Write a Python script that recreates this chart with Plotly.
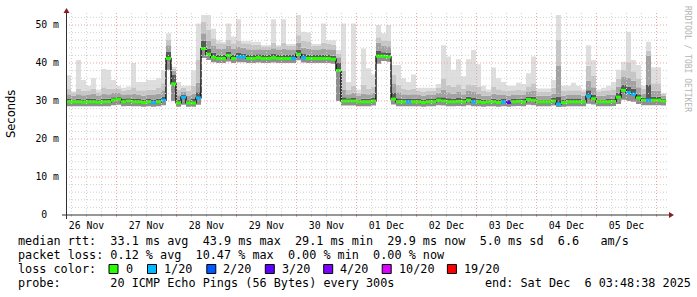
import plotly.graph_objects as go
import pandas as pd

# ---------------- data ----------------
start_time = "2025-11-26 03:48:38"
end_time = "2025-12-06 03:48:38"
step_hours = 2

median_rtt = [
    29.8, 29.8, 29.8, 29.7, 29.8, 29.8, 29.7, 29.8, 29.8, 30.3,
    30.5, 29.8, 30.0, 29.8, 29.8, 29.6, 29.8, 29.6, 29.8, 30.2,
    41.2, 34.5, 29.5, 31.0, 29.5, 29.5, 30.8, 43.8, 42.3, 41.5,
    41.2, 41.2, 42.0, 41.2, 41.6, 41.6, 41.2, 41.2, 41.4, 41.2,
    41.2, 41.4, 41.2, 41.2, 41.2, 41.2, 42.3, 41.4, 41.2, 41.2,
    41.2, 41.2, 41.2, 41.0, 38.0, 30.0, 30.0, 30.0, 29.8, 29.8,
    29.8, 30.0, 41.8, 41.8, 41.6, 30.5, 29.8, 29.8, 29.8, 29.8,
    29.8, 29.6, 29.8, 29.8, 30.2, 30.0, 29.8, 29.8, 29.9, 29.8,
    30.2, 29.8, 29.8, 29.6, 29.8, 29.8, 29.6, 29.8, 29.6, 29.8,
    29.9, 29.8, 30.4, 30.2, 29.8, 29.8, 29.8, 30.0, 29.2, 29.6,
    29.8, 29.8, 29.8, 29.8, 31.3, 30.6, 29.8, 29.8, 29.8, 29.9,
    31.0, 32.8, 32.2, 31.8, 30.8, 30.2, 30.2, 30.2, 30.2, 30.0,
]

max_rtt = [
    36.8, 32.5, 40.8, 35.5, 34.0, 36.0, 33.0, 38.4, 38.2, 35.5,
    34.0, 33.5, 33.8, 40.0, 35.0, 35.0, 35.5, 35.5, 36.0, 38.0,
    47.8, 39.0, 35.0, 34.0, 34.0, 38.0, 50.4, 52.6, 52.6, 49.0,
    46.0, 45.6, 50.4, 47.0, 51.5, 45.8, 45.8, 45.6, 45.6, 44.7,
    44.7, 51.5, 44.7, 51.5, 45.0, 45.0, 52.6, 48.2, 48.0, 45.0,
    45.0, 50.4, 46.0, 46.0, 43.4, 50.4, 35.0, 50.4, 33.0, 43.8,
    38.6, 37.0, 50.0, 47.8, 50.0, 39.5, 39.5, 36.0, 35.0, 37.0,
    33.5, 33.5, 33.5, 33.5, 34.5, 44.7, 41.7, 38.2, 41.0, 36.5,
    41.0, 43.4, 39.7, 34.0, 33.0, 38.8, 36.0, 35.0, 34.0, 34.0,
    34.8, 34.5, 37.3, 41.7, 33.3, 33.3, 33.3, 35.5, 52.6, 34.0,
    34.0, 34.8, 34.0, 33.0, 44.7, 40.8, 33.0, 33.5, 34.0, 35.0,
    38.2, 40.3, 48.2, 40.8, 39.5, 34.0, 45.6, 38.9, 38.9, 32.0,
]

# smoke spread below the median (lowest pings)
spread_below = [
    1.2, 1.2, 1.2, 1.1, 1.2, 1.2, 1.1, 1.2, 1.2, 1.4,
    1.5, 1.2, 1.3, 1.2, 1.2, 1.1, 1.2, 1.1, 1.2, 1.3,
    3.0, 4.5, 1.0, 2.0, 1.0, 1.0, 1.8, 2.5, 1.5, 1.3,
    1.2, 1.2, 1.6, 1.2, 1.4, 1.4, 1.2, 1.2, 1.3, 1.2,
    1.2, 1.3, 1.2, 1.2, 1.2, 1.2, 1.6, 1.3, 1.2, 1.2,
    1.2, 1.2, 1.2, 1.2, 8.0, 1.2, 1.2, 1.2, 1.2, 1.2,
    1.2, 1.2, 2.0, 1.3, 1.3, 1.4, 1.2, 1.2, 1.2, 1.2,
    1.2, 1.1, 1.2, 1.2, 1.3, 1.2, 1.2, 1.2, 1.2, 1.2,
    1.3, 1.2, 1.2, 1.1, 1.2, 1.2, 1.1, 1.2, 1.1, 1.2,
    1.2, 1.2, 1.4, 1.3, 1.2, 1.2, 1.2, 1.2, 0.8, 1.1,
    1.2, 1.2, 1.2, 1.2, 2.0, 1.5, 1.2, 1.2, 1.2, 1.2,
    1.8, 2.5, 2.2, 2.0, 1.6, 1.3, 1.3, 1.3, 1.3, 1.2,
]

# dense (dark) smoke above the median
spread_dark = [
    0.7, 0.6, 0.8, 0.7, 0.7, 0.8, 0.6, 0.8, 0.8, 0.7,
    0.7, 0.7, 0.7, 0.8, 0.7, 0.7, 0.7, 0.8, 0.8, 1.0,
    1.8, 2.5, 0.8, 0.6, 0.7, 1.0, 1.5, 2.0, 1.5, 1.2,
    1.0, 1.0, 1.0, 1.0, 1.0, 0.9, 0.9, 0.9, 0.9, 0.9,
    0.9, 1.0, 0.9, 1.0, 0.9, 0.9, 1.2, 1.0, 1.0, 0.9,
    0.9, 1.0, 0.9, 0.9, 2.0, 1.0, 0.7, 0.8, 0.6, 0.8,
    0.8, 0.9, 1.5, 1.0, 1.0, 1.6, 0.9, 0.8, 0.7, 0.8,
    0.7, 0.7, 0.7, 0.7, 0.8, 1.0, 0.9, 0.8, 0.9, 0.8,
    0.9, 1.0, 0.8, 0.7, 0.6, 0.8, 0.8, 0.7, 0.7, 0.7,
    0.7, 0.7, 0.8, 0.9, 0.6, 0.6, 0.6, 0.8, 2.0, 0.7,
    0.7, 0.7, 0.7, 0.6, 1.5, 1.0, 0.6, 0.6, 0.7, 0.7,
    1.2, 1.5, 1.6, 1.4, 1.0, 0.7, 4.0, 0.9, 0.9, 0.6,
]

# medium smoke above the median
spread_mid = [
    2.0, 1.6, 2.0, 1.8, 1.8, 2.2, 1.6, 2.2, 2.0, 1.8,
    1.6, 1.8, 1.8, 2.2, 1.8, 1.8, 1.8, 2.0, 2.2, 2.6,
    3.5, 3.5, 2.0, 1.5, 1.8, 2.5, 4.0, 4.0, 3.5, 3.0,
    2.5, 2.5, 2.6, 2.5, 2.6, 2.4, 2.4, 2.2, 2.2, 2.2,
    2.2, 2.5, 2.2, 2.6, 2.2, 2.2, 3.0, 2.6, 2.6, 2.2,
    2.2, 2.5, 2.4, 2.4, 3.5, 3.0, 1.8, 2.2, 1.5, 2.2,
    2.0, 2.2, 3.5, 2.8, 2.8, 4.0, 2.5, 2.0, 1.8, 2.0,
    1.8, 1.8, 1.8, 1.8, 2.0, 3.0, 2.5, 2.2, 2.5, 2.0,
    2.4, 2.6, 2.2, 1.8, 1.6, 2.2, 2.0, 1.8, 1.8, 1.8,
    1.8, 1.8, 2.0, 2.4, 1.6, 1.6, 1.6, 2.0, 10.0, 1.8,
    1.8, 1.8, 1.8, 1.6, 4.0, 3.0, 1.6, 1.6, 1.8, 1.8,
    2.8, 3.5, 4.0, 3.5, 2.8, 1.8, 11.8, 2.5, 2.5, 1.4,
]

# light smoke above the median (below the max envelope)
spread_light = [
    3.5, 2.5, 3.5, 3.0, 3.0, 3.5, 2.6, 3.8, 3.5, 3.0,
    2.8, 2.8, 3.0, 3.8, 3.0, 3.2, 3.2, 3.4, 3.6, 4.5,
    5.0, 4.0, 3.5, 2.5, 3.2, 4.5, 10.0, 7.0, 6.5, 5.0,
    4.0, 3.8, 4.2, 4.0, 4.2, 3.6, 3.8, 3.6, 3.4, 3.2,
    3.2, 4.0, 3.2, 4.2, 3.4, 3.4, 5.0, 4.5, 4.5, 3.4,
    3.4, 4.2, 3.8, 3.8, 4.5, 8.0, 3.0, 4.0, 2.4, 4.5,
    3.5, 3.8, 5.0, 4.2, 4.2, 6.5, 4.5, 3.5, 3.2, 3.5,
    2.8, 2.8, 2.8, 2.8, 3.2, 6.0, 4.5, 4.0, 4.5, 3.5,
    4.2, 4.5, 4.0, 3.0, 2.6, 4.0, 3.5, 3.0, 3.0, 3.0,
    3.0, 3.0, 3.5, 4.5, 2.6, 2.6, 2.6, 3.5, 17.0, 3.0,
    3.0, 3.0, 3.0, 2.6, 8.0, 6.0, 2.6, 2.8, 3.0, 3.2,
    4.8, 5.5, 8.0, 6.0, 5.0, 3.0, 13.0, 4.5, 4.5, 2.0,
]

# loss level index per sample (0 -> "0", 1 -> "1/20", ..., 3 -> "3/20")
loss_level = [
    0, 0, 0, 0, 0, 0, 0, 0, 0, 0,
    0, 0, 0, 0, 0, 0, 0, 1, 0, 1,
    0, 0, 0, 1, 0, 0, 1, 0, 0, 0,
    0, 0, 0, 0, 1, 1, 0, 0, 0, 0,
    0, 0, 0, 0, 0, 1, 0, 1, 0, 0,
    0, 0, 0, 0, 0, 0, 0, 0, 0, 0,
    0, 0, 0, 0, 0, 0, 0, 0, 1, 0,
    0, 0, 0, 0, 0, 0, 0, 0, 0, 0,
    0, 1, 0, 0, 0, 0, 0, 1, 3, 0,
    0, 0, 0, 0, 0, 0, 0, 0, 1, 0,
    0, 0, 0, 0, 1, 0, 0, 0, 0, 0,
    0, 0, 1, 1, 0, 0, 1, 0, 0, 0,
]

loss_labels = ["0", "1/20", "2/20", "3/20", "4/20", "10/20", "19/20"]
loss_colors = ["#26ff00", "#00b8ff", "#0059ff", "#5e00ff", "#7e00ff", "#dd00ff", "#ff0000"]

day_labels = ["26 Nov", "27 Nov", "28 Nov", "29 Nov", "30 Nov",
              "01 Dec", "02 Dec", "03 Dec", "04 Dec", "05 Dec"]
y_ticks = [0, 10, 20, 30, 40, 50]
y_ticktext = ["0\u00a0\u00a0", "10 m", "20 m", "30 m", "40 m", "50 m"]

stats_rtt = "median rtt:  33.1 ms avg  43.9 ms max  29.1 ms min  29.9 ms now  5.0 ms sd  6.6   am/s"
stats_loss = "packet loss: 0.12 % avg  10.47 % max  0.00 % min  0.00 % now"
probe_text = "probe:       20 ICMP Echo Pings (56 Bytes) every 300s"
end_text = "end: Sat Dec  6 03:48:38 2025"

# ---------------- geometry helpers (pixel -> paper) ----------------
PL, PR, PT, PB = 66, 666, 12, 215
W, H = 697, 297


def px(xp):
    return (xp - PL) / (PR - PL)


def py(yp):
    return (PB - yp) / (PB - PT)


def nb(s):
    return s.replace(" ", "\u00a0")


t0 = pd.Timestamp(start_time)
t_end = pd.Timestamp(end_time)
times = [t0 + pd.Timedelta(hours=step_hours * i) for i in range(len(median_rtt))]
xs = times + [t_end]


def ext(a):
    return list(a) + [a[-1]]


low = [m - d for m, d in zip(median_rtt, spread_below)]
up_dark = [min(m + d, mx) for m, d, mx in zip(median_rtt, spread_dark, max_rtt)]
up_mid = [min(m + d, mx) for m, d, mx in zip(median_rtt, spread_mid, max_rtt)]
up_light = [min(m + d, mx) for m, d, mx in zip(median_rtt, spread_light, max_rtt)]

fig = go.Figure()

bands = [
    (low, None),
    (median_rtt, "#8e8e8e"),
    (up_dark, "#595959"),
    (up_mid, "#a2a2a2"),
    (up_light, "#c6c6c6"),
    (max_rtt, "#dedede"),
]
for arr, col in bands:
    fig.add_trace(go.Scatter(
        x=xs, y=ext(arr), mode="lines", line=dict(width=0, shape="hv"),
        fill=None if col is None else "tonexty", fillcolor=col,
        hoverinfo="skip", showlegend=False))

# black median step line (vertical joins)
fig.add_trace(go.Scatter(x=xs, y=ext(median_rtt), mode="lines",
                         line=dict(color="#000000", width=1.3, shape="hv"),
                         hoverinfo="skip", showlegend=False))

# coloured median segments by loss
for lvl, col in enumerate(loss_colors):
    sx, sy = [], []
    for i, m in enumerate(median_rtt):
        if loss_level[i] == lvl:
            sx += [xs[i], xs[i + 1], None]
            sy += [m, m, None]
    if sx:
        fig.add_trace(go.Scatter(x=sx, y=sy, mode="lines",
                                 line=dict(color=col, width=3),
                                 hoverinfo="skip", showlegend=False))

shapes = []
minor_col = "#d2d2d2"
major_col = "#eea0a0"
dots = "1px,2px"
# vertical grid
day0 = pd.Timestamp("2025-11-26 00:00:00")
for k in range(1, 41):
    t = day0 + pd.Timedelta(hours=6 * k)
    if t <= t0 or t >= t_end:
        continue
    col = major_col if t.hour == 0 else minor_col
    shapes.append(dict(type="line", xref="x", yref="paper", x0=t, x1=t, y0=0, y1=1,
                       line=dict(color=col, width=1, dash=dots), layer="above"))
    shapes.append(dict(type="line", xref="x", yref="paper", x0=t, x1=t, y0=0, y1=py(217),
                       line=dict(color=col, width=1), layer="above"))
# horizontal grid
for v in range(2, 54, 2):
    col = major_col if v % 10 == 0 else minor_col
    shapes.append(dict(type="line", xref="paper", yref="y", x0=0, x1=px(669), y0=v, y1=v,
                       line=dict(color=col, width=1, dash=dots), layer="above"))
# axes
shapes.append(dict(type="line", xref="paper", yref="paper", x0=px(62), x1=px(670),
                   y0=0, y1=0, line=dict(color="#303030", width=1), layer="above"))
shapes.append(dict(type="line", xref="paper", yref="paper", x0=px(66.5), x1=px(66.5),
                   y0=py(219), y1=py(10), line=dict(color="#303030", width=1), layer="above"))
# arrows
shapes.append(dict(type="path", xref="paper", yref="paper",
                   path=f"M {px(669)} {py(212)} L {px(669)} {py(218)} L {px(674)} {py(215)} Z",
                   fillcolor="#8b1c1c", line=dict(width=0), layer="above"))
shapes.append(dict(type="path", xref="paper", yref="paper",
                   path=f"M {px(63.5)} {py(13)} L {px(69.5)} {py(13)} L {px(66.5)} {py(8)} Z",
                   fillcolor="#8b1c1c", line=dict(width=0), layer="above"))

annotations = []
legend_font = dict(family="DejaVu Sans Mono", size=11.8, color="#000000")
for text, ypix in [(stats_rtt, 241), (stats_loss, 255), ("loss color:", 269), (probe_text, 283)]:
    annotations.append(dict(xref="paper", yref="paper", x=px(16), y=py(ypix), text=nb(text),
                            showarrow=False, xanchor="left", yanchor="middle", font=legend_font))
annotations.append(dict(xref="paper", yref="paper", x=px(483), y=py(283), text=nb(end_text),
                        showarrow=False, xanchor="left", yanchor="middle", font=legend_font))

box_x = [109, 147.5, 206.8, 265.3, 323.7, 382.2, 447.4]
for bx, lab, col in zip(box_x, loss_labels, loss_colors):
    shapes.append(dict(type="rect", xref="paper", yref="paper",
                       x0=px(bx), x1=px(bx + 9), y0=py(273.5), y1=py(264.5),
                       fillcolor=col, line=dict(color="#000000", width=1), layer="above"))
    annotations.append(dict(xref="paper", yref="paper", x=px(bx + 14.5), y=py(269), text=nb(lab),
                            showarrow=False, xanchor="left", yanchor="middle", font=legend_font))

annotations.append(dict(xref="paper", yref="paper", x=px(11), y=py(114), text="Seconds",
                        showarrow=False, textangle=-90, xanchor="center", yanchor="middle",
                        font=dict(family="DejaVu Sans", size=11.5, color="#000000")))
annotations.append(dict(xref="paper", yref="paper", x=px(688), y=py(59),
                        text=nb("RRDTOOL / TOBI OETIKER"),
                        showarrow=False, textangle=90, xanchor="center", yanchor="middle",
                        font=dict(family="DejaVu Sans Mono", size=8, color="#b4b4b4")))

noons = [day0 + pd.Timedelta(hours=12 + 24 * k) for k in range(len(day_labels))]

fig.update_layout(
    width=W, height=H,
    margin=dict(l=PL, r=W - PR, t=PT, b=H - PB),
    paper_bgcolor="#ffffff", plot_bgcolor="#ffffff",
    showlegend=False,
    shapes=shapes, annotations=annotations,
    xaxis=dict(type="date", range=[t0, t_end], showgrid=False, zeroline=False, showline=False,
               tickmode="array", tickvals=noons, ticktext=day_labels, ticks="",
               ticklabelstandoff=3,
               tickfont=dict(family="DejaVu Sans Mono", size=9.8, color="#000000")),
    yaxis=dict(range=[0, (PB - PT) / 3.8], showgrid=False, zeroline=False, showline=False,
               tickmode="array", tickvals=y_ticks, ticktext=y_ticktext, ticks="",
               ticklabelstandoff=6,
               tickfont=dict(family="DejaVu Sans Mono", size=9.8, color="#000000")),
)

fig.write_html("out.html")
